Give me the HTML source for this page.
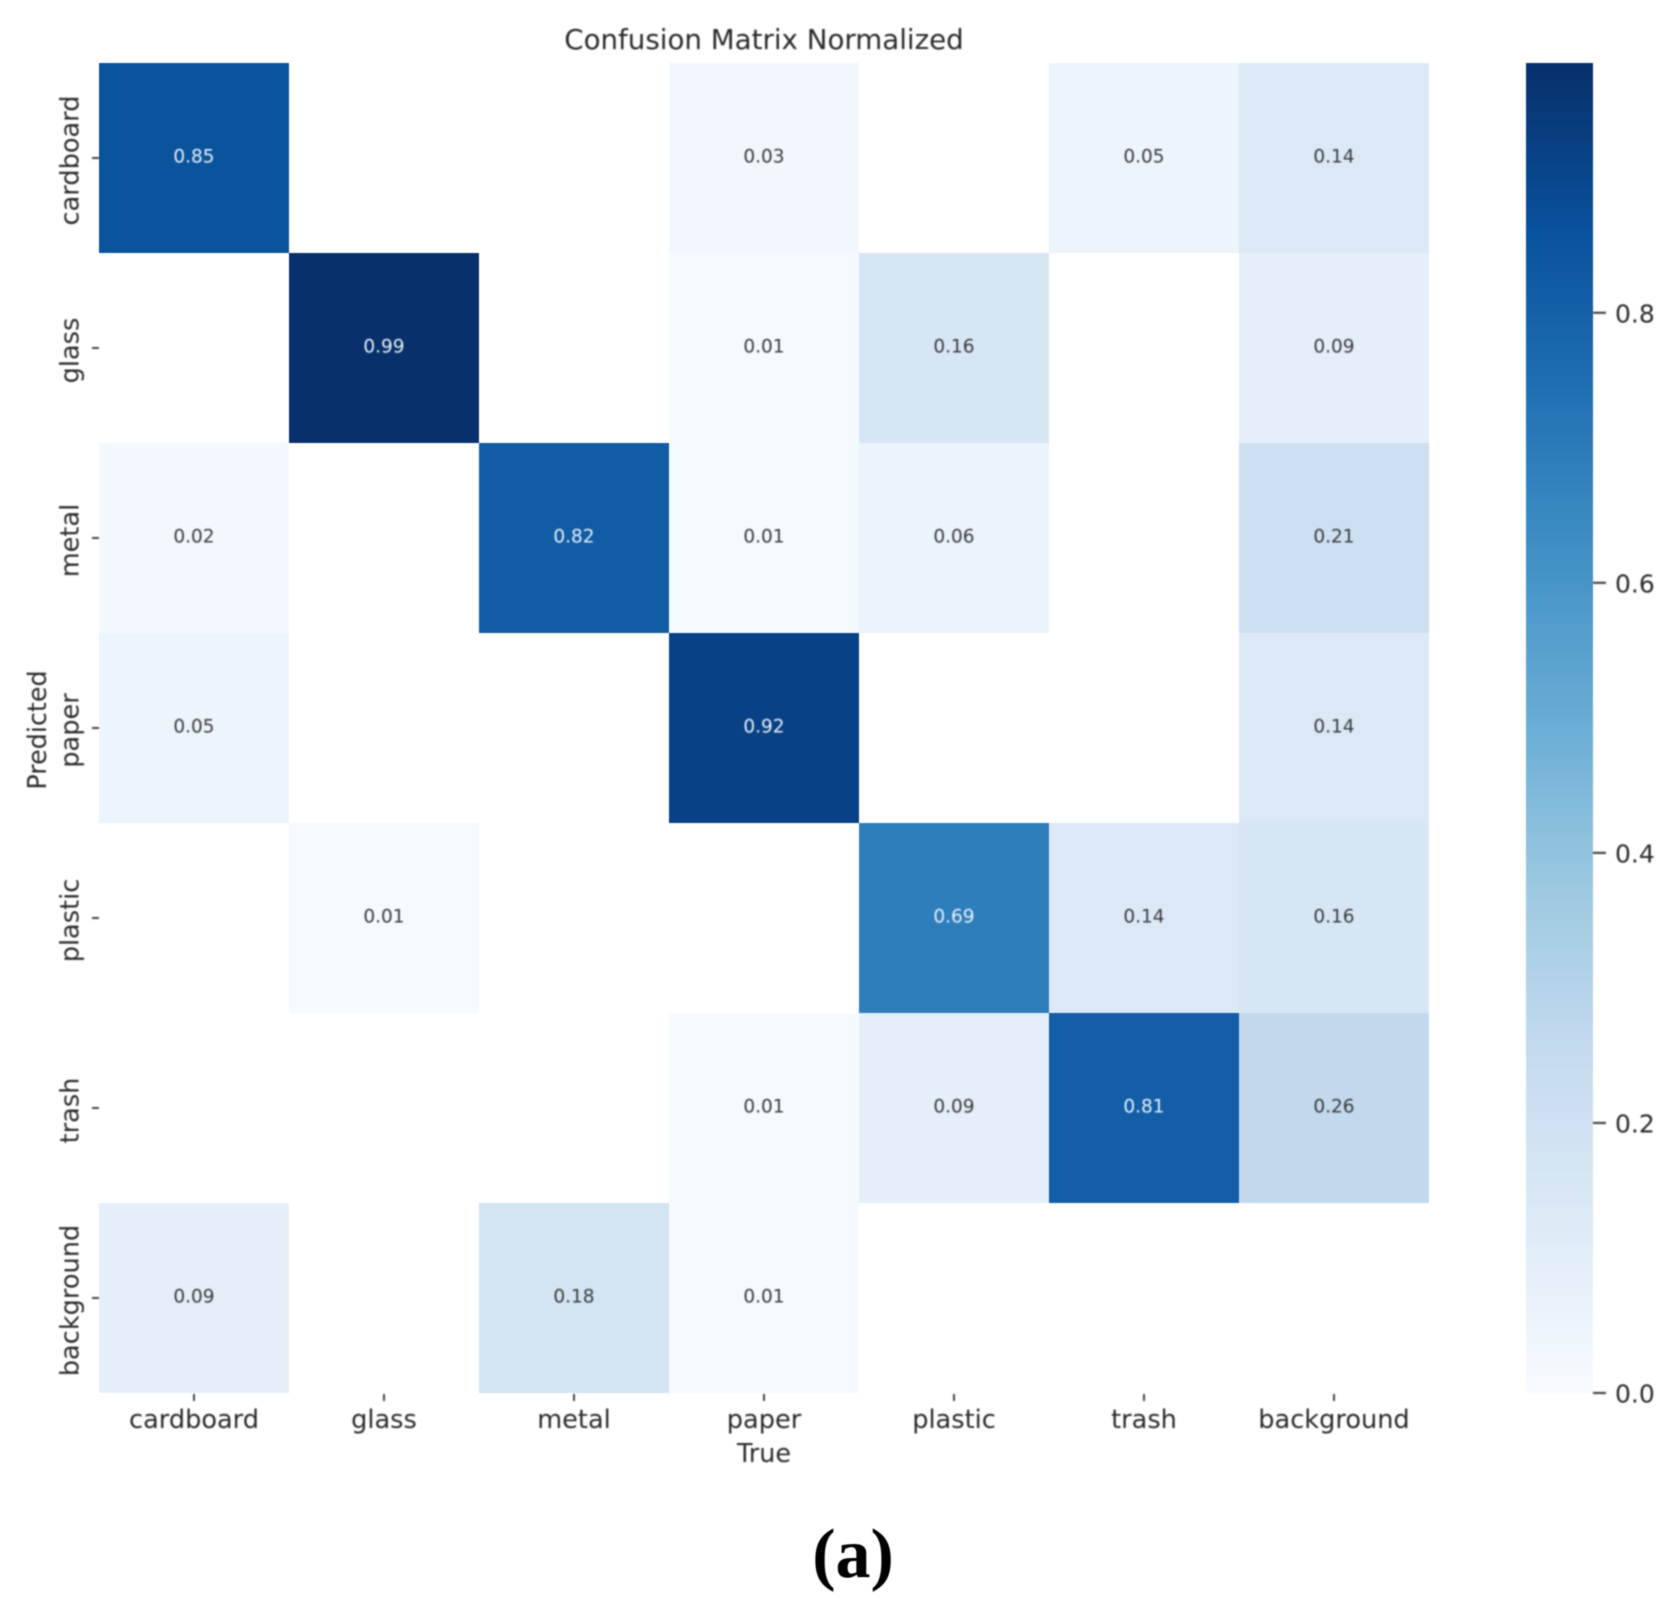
<!DOCTYPE html>
<html lang="en">
<head>
<meta charset="utf-8">
<title>Confusion Matrix Normalized</title>
<style>
  html, body { margin: 0; padding: 0; background: #fff; }
  #chart { display: block; width: 1675px; height: 1616px; filter: blur(0.5px); }
  text { font-family: "DejaVu Sans", "Liberation Sans", sans-serif; fill: #2b2b2b; }
  #annotations, #x-axis, #y-axis, #cbar-axis, .soft-text { filter: blur(0.6px); }
  #panel-label { font-family: "Liberation Serif", serif; font-weight: bold; fill: #000; }
</style>
</head>
<body>
<svg id="chart" xmlns="http://www.w3.org/2000/svg" width="1675" height="1616" viewBox="0 0 1675 1616">
  <defs>
    <linearGradient id="cbar-gradient" x1="0" y1="1" x2="0" y2="0"></linearGradient>
  </defs>
  <rect x="0" y="0" width="1675" height="1616" fill="#ffffff"></rect>
  <text class="soft-text" x="764" y="49" font-size="27.7" text-anchor="middle">Confusion Matrix Normalized</text>
  <g id="cells"></g>
  <g id="annotations"></g>
  <g id="x-axis"></g>
  <g id="y-axis"></g>
  <text class="soft-text" x="764" y="1462" font-size="25.4" text-anchor="middle">True</text>
  <text class="soft-text" transform="translate(46,730) rotate(-90)" font-size="25.4" text-anchor="middle">Predicted</text>
  <rect id="cbar" fill="url(#cbar-gradient)"></rect>
  <g id="cbar-axis"></g>
  <text id="panel-label" x="853" y="1577" font-size="70" text-anchor="middle">(a)</text>
</svg>
<script>
const categories = ["cardboard", "glass", "metal", "paper", "plastic", "trash", "background"];
const rowCardboard = [0.85, null, null, 0.03, null, 0.05, 0.14];
const rowGlass = [null, 0.99, null, 0.01, 0.16, null, 0.09];
const rowMetal = [0.02, null, 0.82, 0.01, 0.06, null, 0.21];
const rowPaper = [0.05, null, null, 0.92, null, null, 0.14];
const rowPlastic = [null, 0.01, null, null, 0.69, 0.14, 0.16];
const rowTrash = [null, null, null, 0.01, 0.09, 0.81, 0.26];
const rowBackground = [0.09, null, 0.18, 0.01, null, null, null];
const matrixRows = [rowCardboard, rowGlass, rowMetal, rowPaper, rowPlastic, rowTrash, rowBackground];
const colorbarTicks = [0, 0.2, 0.4, 0.6, 0.8];
const colorbarMax = 0.985;
const bluesRamp = ["#f7fbff", "#deebf7", "#c6dbef", "#9ecae1", "#6baed6", "#4292c6", "#2171b5", "#08519c", "#08306b"];

const SVG_NS = "http://www.w3.org/2000/svg";
const plot = { left: 99, right: 1429, top: 63, bottom: 1393 };
const bar = { left: 1526, right: 1593, top: 63, bottom: 1393 };

function xCenter(i) {
  return plot.left + (i + 0.5) * (plot.right - plot.left) / categories.length;
}
function yCenter(i) {
  return plot.top + (i + 0.5) * (plot.bottom - plot.top) / categories.length;
}
function xEdge(i) {
  return plot.left + i * (plot.right - plot.left) / categories.length;
}
function yEdge(i) {
  return plot.top + i * (plot.bottom - plot.top) / categories.length;
}
function barY(v) {
  return bar.bottom - (v / colorbarMax) * (bar.bottom - bar.top);
}
function hexToRgb(h) {
  return [1, 3, 5].map(function (k) { return parseInt(h.substr(k, 2), 16); });
}
function colorFor(v) {
  const t = Math.max(0, Math.min(1, v / colorbarMax)) * (bluesRamp.length - 1);
  const i = Math.min(Math.floor(t), bluesRamp.length - 2);
  const a = hexToRgb(bluesRamp[i]);
  const b = hexToRgb(bluesRamp[i + 1]);
  const f = t - i;
  return "rgb(" + a.map(function (c, k) { return Math.round(c + (b[k] - c) * f); }).join(",") + ")";
}
function make(tag, parent) {
  const el = document.createElementNS(SVG_NS, tag);
  parent.appendChild(el);
  return el;
}
function place(el, values) {
  Object.keys(values).forEach(function (k) { el.setAttribute(k, values[k]); });
}

const cellsGroup = document.getElementById("cells");
const annotationsGroup = document.getElementById("annotations");
const xAxisGroup = document.getElementById("x-axis");
const yAxisGroup = document.getElementById("y-axis");
const cbarAxisGroup = document.getElementById("cbar-axis");

matrixRows.forEach(function (row, r) {
  row.forEach(function (value, c) {
    if (value === null) return;
    const cell = make("rect", cellsGroup);
    
    
    place(cell, {
      x: xEdge(c), y: yEdge(r),
      width: xEdge(c + 1) - xEdge(c), height: yEdge(r + 1) - yEdge(r),
      fill: colorFor(value)
    });
    const label = make("text", annotationsGroup);
    
    
    place(label, {
      x: xCenter(c), y: yCenter(r) + 4.7,
      "font-size": 18.5, "text-anchor": "middle"
    });
    label.style.fill = value > 0.55 ? "#e8f1fa" : "#3a3a3a";
    label.textContent = value.toFixed(2);
  });
});

categories.forEach(function (name, i) {
  const xt = make("line", xAxisGroup);
  
  
  place(xt, { x1: xCenter(i), x2: xCenter(i), y1: 1394, y2: 1401, stroke: "#444", "stroke-width": 2 });

  const xl = make("text", xAxisGroup);
  
  
  place(xl, { x: xCenter(i), y: 1428, "font-size": 25.6, "text-anchor": "middle" });
  xl.textContent = name;

  const yt = make("line", yAxisGroup);
  
  
  place(yt, { x1: 92, x2: 99, y1: yCenter(i), y2: yCenter(i), stroke: "#444", "stroke-width": 2 });

  const yl = make("text", yAxisGroup);
  
  
  place(yl, {
    transform: "translate(78.5," + (yCenter(i) + 2.5) + ") rotate(-90)",
    "font-size": 25.6, "text-anchor": "middle"
  });
  yl.textContent = name;
});

const gradient = document.getElementById("cbar-gradient");
bluesRamp.forEach(function (color, i) {
  const stop = make("stop", gradient);
  place(stop, { offset: i / (bluesRamp.length - 1), "stop-color": color });
});
place(document.getElementById("cbar"), {
  x: bar.left, y: bar.top, width: bar.right - bar.left, height: bar.bottom - bar.top
});

colorbarTicks.forEach(function (value) {
  const tick = make("line", cbarAxisGroup);
  
  
  place(tick, { x1: bar.right, x2: bar.right + 13, y1: barY(value), y2: barY(value), stroke: "#444", "stroke-width": 2.2 });

  const label = make("text", cbarAxisGroup);
  
  
  place(label, { x: bar.right + 22, y: barY(value) + 9.5, "font-size": 25 });
  label.textContent = value.toFixed(1);
});
</script>
</body>
</html>
